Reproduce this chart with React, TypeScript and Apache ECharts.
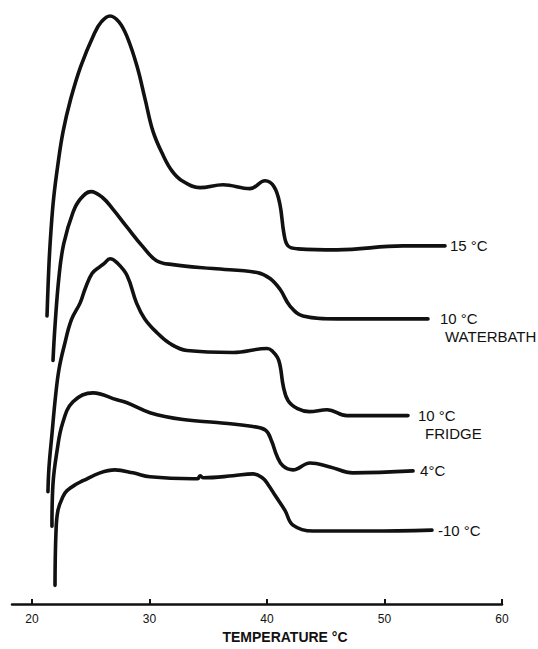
import React, { useEffect, useRef } from "react";
import * as echarts from "echarts";

// Temperature (°C) vs. relative heat-flow (arbitrary units)
const curve15C: [number, number][] = [
  [21.28, 292], [21.45, 345], [21.62, 379], [21.85, 412], [22.2, 445], [22.65, 479],
  [23.3, 512], [24.15, 545], [25.3, 578], [25.9, 590], [26.64, 596], [27.4, 590],
  [28.09, 575], [28.94, 545], [29.62, 512], [30.3, 479], [31.15, 455], [31.91, 439],
  [32.77, 429], [34.3, 422], [36.26, 425], [38.55, 421], [39.83, 429], [40.6, 423],
  [41.1, 405], [41.45, 375], [41.79, 363], [42.64, 360], [45.96, 359], [51.57, 363],
  [55.15, 363],
];
const curve10CWaterbath: [number, number][] = [
  [21.79, 247], [21.96, 282], [22.3, 332], [22.7, 365], [23.49, 397], [24.15, 411],
  [25.02, 418], [26.0, 412], [26.9, 400], [28.09, 382], [29.45, 362], [30.6, 348],
  [32.0, 344], [35.4, 340], [39.15, 336], [40.26, 330], [41.11, 319], [41.96, 302],
  [43.06, 292], [45.96, 289], [53.7, 289],
];
const curve10CFridge: [number, number][] = [
  [21.36, 114], [21.45, 139], [21.7, 172], [22.0, 210], [22.3, 238], [22.75, 262],
  [23.35, 288], [24.09, 305], [24.51, 319], [25.11, 335], [25.79, 342], [26.13, 345],
  [26.64, 350], [27.23, 346], [28.09, 333], [28.9, 305], [29.6, 289], [30.64, 275],
  [31.74, 264], [33.19, 257], [37.11, 255], [40.0, 259], [40.4, 257], [41.0, 247],
  [41.4, 220], [41.8, 206], [42.6, 198], [43.6, 195], [45.11, 197], [46.81, 191],
  [52.0, 191],
];
const curve4C: [number, number][] = [
  [21.7, 79], [21.79, 122], [22.13, 155], [22.6, 183], [23.49, 205], [25.19, 214],
  [27.23, 207], [28.09, 204], [30.04, 194], [32.85, 187], [35.74, 184], [38.81, 180],
  [39.9, 176], [40.4, 165], [40.85, 150], [41.36, 140], [42.21, 136], [43.66, 143],
  [45.36, 139], [47.32, 133], [52.43, 135],
];
const curveMinus10C: [number, number][] = [
  [21.96, 19], [22.04, 72], [22.21, 95], [22.64, 109], [22.98, 115], [23.83, 122],
  [24.34, 125], [25.79, 133], [27.06, 136], [28.6, 133], [30.04, 129], [33.7, 127],
  [34.1, 127], [34.3, 130], [34.6, 128], [37.11, 130], [38.81, 132], [39.6, 128],
  [40.1, 121], [40.7, 110], [41.53, 95], [42.21, 80], [43.91, 74], [48.77, 74],
  [54.04, 75],
];

const seriesNames = ["15 °C", "10 °C\nWATERBATH", "10 °C\nFRIDGE", "4°C", "-10 °C"];
const xTicks = [20, 30, 40, 50, 60];
const xAxisTitle = "TEMPERATURE °C";

export default function App() {
  const ref = useRef<HTMLDivElement>(null);

  useEffect(() => {
    if (!ref.current) return;
    const chart = echarts.init(ref.current, undefined, { renderer: "svg" });
    const font = "'Liberation Sans', Arial, sans-serif";
    const datasets = [curve15C, curve10CWaterbath, curve10CFridge, curve4C, curveMinus10C];
    const labelDistance = [5, 12, 10, 7, 6];
    const subIndent = [0, 5, 7, 0, 0];

    const series = datasets.map((data, i) => {
      const lines = seriesNames[i].split("\n");
      const twoLine = lines.length > 1;
      return {
        type: "line",
        name: seriesNames[i],
        data,
        smooth: 0.4,
        showSymbol: false,
        symbol: "none",
        lineStyle: { color: "#111", width: 3.6, cap: "round", join: "round" },
        endLabel: {
          show: true,
          distance: labelDistance[i],
          offset: [0, twoLine ? 9 : 0],
          formatter: twoLine
            ? `{a|${lines[0]}}\n{b|${lines[1]}}`
            : `{a|${lines[0]}}`,
          rich: {
            a: { fontSize: 15, fontFamily: font, color: "#111", lineHeight: 18 },
            b: {
              fontSize: 15,
              fontFamily: font,
              color: "#111",
              lineHeight: 18,
              padding: [0, 0, 0, subIndent[i]],
            },
          },
        },
      };
    });

    chart.setOption({
      animation: false,
      backgroundColor: "#fff",
      grid: { left: 12, right: 36, top: 12, bottom: 37, containLabel: false },
      xAxis: {
        type: "value",
        min: 18.3,
        max: 60,
        name: xAxisTitle,
        nameLocation: "middle",
        nameGap: 20,
        nameTextStyle: {
          fontSize: 14,
          fontWeight: "bold",
          fontFamily: font,
          color: "#111",
          padding: [0, 0, 0, 56],
        },
        axisLine: { show: true, lineStyle: { color: "#111", width: 2.5 } },
        axisTick: {
          show: true,
          inside: true,
          length: 5,
          customValues: xTicks,
          lineStyle: { color: "#111", width: 2 },
        },
        axisLabel: {
          show: true,
          customValues: xTicks,
          margin: 9,
          fontSize: 12,
          fontFamily: font,
          color: "#111",
        },
        splitLine: { show: false },
      },
      yAxis: { type: "value", min: 0, max: 600, show: false, splitLine: { show: false } },
      series,
    });

    return () => chart.dispose();
  }, []);

  return (
    <div
      ref={ref}
      style={{ position: "fixed", left: 0, top: 0, width: 538, height: 649, background: "#fff" }}
    />
  );
}
